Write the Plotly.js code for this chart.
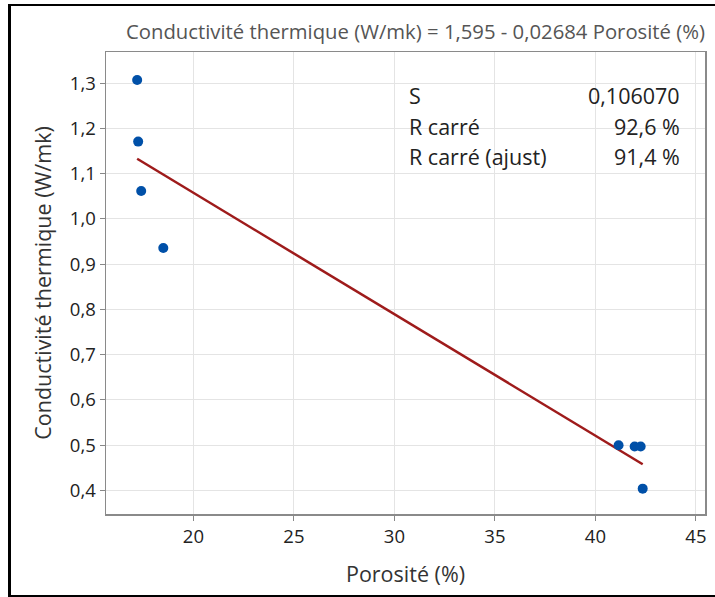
<!DOCTYPE html>
<html>
<head>
<meta charset="utf-8">
<script src="https://cdn.plot.ly/plotly-3.0.1.min.js"></script>
<style>
html,body{margin:0;padding:0;background:#fff;overflow:hidden;}
#wrap{position:relative;width:715px;height:597px;}
#chart{position:absolute;left:0;top:0;width:715px;height:597px;}
#frame{position:absolute;left:8px;top:4px;width:800px;height:589px;border-left:3px solid #000;border-top:2px solid #000;border-bottom:2px solid #000;pointer-events:none;}
</style>
</head>
<body>
<div id="wrap"><div id="chart"></div><div id="frame"></div></div>
<script>
// Data
const porosite = [17.2, 17.25, 17.4, 18.5, 41.15, 41.95, 42.25, 42.35];
const conductivite = [1.307, 1.171, 1.062, 0.936, 0.500, 0.497, 0.497, 0.404];
// Fitted line endpoints (Conductivité = 1,595 - 0,02684 Porosité)
const fitX = [17.2, 42.35];
const fitY = [1.133, 0.458];
const statLabels = ["S", "R carré", "R carré (ajust)"];
const statValues = ["0,106070", "92,6 %", "91,4 %"];
const xTicks = [20, 25, 30, 35, 40, 45];
const yTicks = [0.4, 0.5, 0.6, 0.7, 0.8, 0.9, 1.0, 1.1, 1.2, 1.3];
const titleText = 'Conductivité thermique (W/mk) = 1,595 - 0,02684 Porosité (%)';

const font = "Open Sans, Noto Sans, sans-serif";
const traces = [
  {x: fitX, y: fitY, mode: 'lines', type: 'scatter',
   line: {color: '#9e1b1b', width: 2.5}, hoverinfo: 'skip', showlegend: false},
  {x: porosite, y: conductivite, mode: 'markers', type: 'scatter',
   marker: {color: '#0050a8', size: 10}, showlegend: false}
];
const rowY = [0.905, 0.838, 0.773];
const ann = [];
statLabels.forEach((t, i) => {
  ann.push({text: t, xref: 'paper', yref: 'paper', x: 0.503, y: rowY[i], xanchor: 'left', yanchor: 'middle', showarrow: false, font: {family: font, size: 21.5, color: '#222'}});
  ann.push({text: statValues[i], xref: 'paper', yref: 'paper', x: 0.962, y: rowY[i], xanchor: 'right', yanchor: 'middle', showarrow: false, font: {family: font, size: 21.5, color: '#222'}});
});
// chart title as an annotation above the plot frame
ann.push({text: titleText, xref: 'paper', yref: 'paper', x: 1.004, y: 1.0465, xanchor: 'right', yanchor: 'middle', showarrow: false, font: {family: font, size: 20.3, color: '#555'}});
const layout = {
  width: 715, height: 597,
  margin: {l: 106, r: 10, t: 52, b: 83},
  paper_bgcolor: 'rgba(0,0,0,0)', plot_bgcolor: '#fff',
  separators: ', ',
  font: {family: font, color: '#333'},
  xaxis: {range: [15.65, 45.45], tickvals: xTicks, ticks: 'outside', ticklen: 5, tickcolor: '#888',
    showline: true, linecolor: '#8a8a8a', linewidth: 1.5, mirror: true, gridcolor: '#e4e4e4', zeroline: false,
    tickfont: {size: 18.5, color: '#222'}, automargin: false,
    title: {text: 'Porosité (%)', font: {size: 21.5, color: '#333'}, standoff: 20}},
  yaxis: {range: [0.348, 1.369], tickvals: yTicks, tickformat: '.1f', ticks: 'outside', ticklen: 5, tickcolor: '#888',
    showline: true, linecolor: '#8a8a8a', linewidth: 1.5, mirror: true, gridcolor: '#e4e4e4', zeroline: false,
    tickfont: {size: 18.5, color: '#222'}, automargin: false,
    title: {text: 'Conductivité thermique (W/mk)', font: {size: 21.5, color: '#333'}, standoff: 12}},
  annotations: ann
};
Plotly.newPlot('chart', traces, layout, {displayModeBar: false, staticPlot: true});
</script>
</body>
</html>
